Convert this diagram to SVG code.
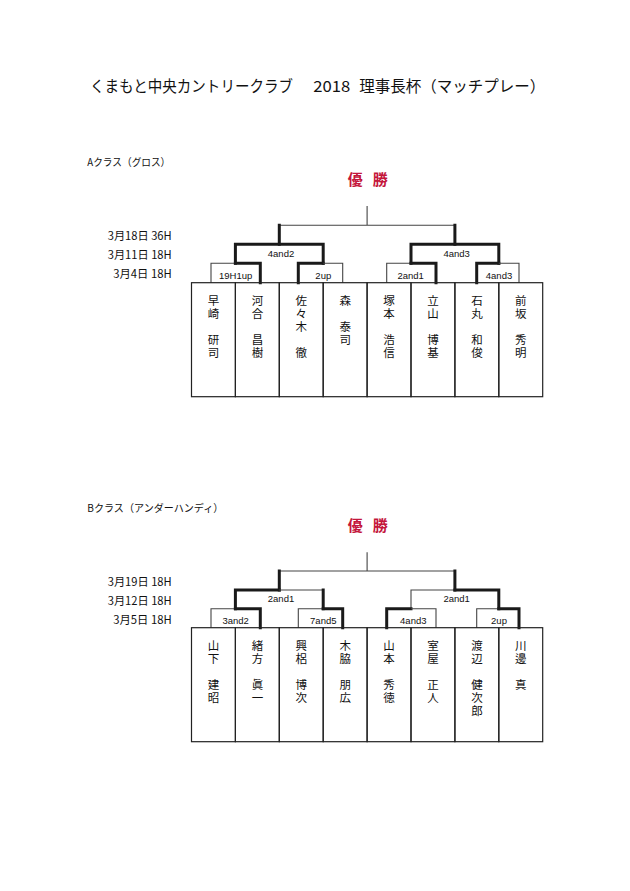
<svg xmlns="http://www.w3.org/2000/svg" width="630" height="891" viewBox="0 0 630 891">
<style>
.bg{fill:#ffffff}
.ttl{font-family:"Noto Sans CJK JP","Liberation Sans",sans-serif;font-size:15.5px;fill:#111}
.cls{font-family:"Noto Sans CJK JP","Liberation Sans",sans-serif;font-size:10.5px;fill:#111}
.dt{font-family:"Noto Sans CJK JP","Liberation Sans",sans-serif;font-size:11.5px;fill:#111;text-anchor:end}
.win{font-family:"Noto Sans CJK JP",sans-serif;font-size:15px;font-weight:bold;fill:#c4163c;text-anchor:middle}
.res{font-family:"Liberation Sans","Noto Sans",sans-serif;font-size:9.5px;fill:#111;text-anchor:middle}
.nm{font-family:"Noto Sans CJK JP",sans-serif;font-size:11.5px;fill:#111;text-anchor:middle}
.box{fill:none;stroke:#222;stroke-width:1.2}
.tn{fill:none;stroke:#444;stroke-width:1.1}
.tk{fill:none;stroke:#1a1a1a;stroke-width:3;stroke-linecap:square}
</style>
<rect class="bg" x="0" y="0" width="630" height="891"/>

<g id="title">
<text class="ttl" x="90" y="91.5" textLength="203" lengthAdjust="spacingAndGlyphs">くまもと中央カントリークラブ</text>
<text class="ttl" x="313.3" y="91.5" textLength="37" lengthAdjust="spacingAndGlyphs">2018</text>
<text class="ttl" x="359.3" y="91.5" textLength="186" lengthAdjust="spacingAndGlyphs">理事長杯（マッチプレー）</text>
</g>

<!-- ===== A class ===== -->
<g id="classA-labels">
<text class="cls" x="87.3" y="165.5" textLength="83" lengthAdjust="spacingAndGlyphs">Aクラス（グロス）</text>
<text class="win" x="355.3 380.3" y="184.5">優勝</text>
<text class="dt" x="171.7" y="239.8" textLength="64" lengthAdjust="spacingAndGlyphs">3月18日 36H</text>
<text class="dt" x="171.7" y="258.8" textLength="64" lengthAdjust="spacingAndGlyphs">3月11日 18H</text>
<text class="dt" x="171.7" y="278.1" textLength="58.4" lengthAdjust="spacingAndGlyphs">3月4日 18H</text>
</g>

<g id="classA-connectors">
<path class="tn" d="M367.1,206 V225.3 M279.3,225.3 H454.9"/>
<path class="tk" d="M279.3,225.3 V244.3 M454.9,225.3 V244.3"/>
<path class="tk" d="M235.4,244.3 H323.2 M235.4,244.3 V263.3 M323.2,244.3 V263.3"/>
<path class="tk" d="M411,244.3 H498.8 M411,244.3 V263.3 M498.8,244.3 V263.3"/>
<path class="tn" d="M211,282.7 V263.3 H235.4"/>
<path class="tk" d="M235.4,263.3 H260.3 V282.7"/>
<path class="tk" d="M298.3,282.7 V263.3 H323.2"/>
<path class="tn" d="M323.2,263.3 H342.7 V282.7"/>
<path class="tn" d="M386.7,282.7 V263.3 H411"/>
<path class="tk" d="M411,263.3 H436 V282.7"/>
<path class="tk" d="M476.7,282.7 V263.3 H498.8"/>
<path class="tn" d="M498.8,263.3 H519 V282.7"/>
<text class="res" x="281" y="257.3">4and2</text>
<text class="res" x="456.7" y="257.3">4and3</text>
<text class="res" x="235.7" y="279.3">19H1up</text>
<text class="res" x="323.3" y="279.3">2up</text>
<text class="res" x="410.7" y="279.3">2and1</text>
<text class="res" x="499" y="279.3">4and3</text>
</g>

<g id="A1"><rect class="box" x="191.5" y="282.7" width="43.9" height="114"/><text class="nm" x="213.5 213.5 213.5 213.5" y="304.9 318 344.2 357.3">早崎研司</text></g>
<g id="A2"><rect class="box" x="235.4" y="282.7" width="43.9" height="114"/><text class="nm" x="257.4 257.4 257.4 257.4" y="304.9 318 344.2 357.3">河合昌樹</text></g>
<g id="A3"><rect class="box" x="279.3" y="282.7" width="43.9" height="114"/><text class="nm" x="301.3 301.3 301.3 301.3" y="304.9 318 331.1 357.3">佐々木徹</text></g>
<g id="A4"><rect class="box" x="323.2" y="282.7" width="43.9" height="114"/><text class="nm" x="345.2 345.2 345.2" y="304.9 331.1 344.2">森泰司</text></g>
<g id="A5"><rect class="box" x="367.1" y="282.7" width="43.9" height="114"/><text class="nm" x="389.1 389.1 389.1 389.1" y="304.9 318 344.2 357.3">塚本浩信</text></g>
<g id="A6"><rect class="box" x="411" y="282.7" width="43.9" height="114"/><text class="nm" x="433 433 433 433" y="304.9 318 344.2 357.3">立山博基</text></g>
<g id="A7"><rect class="box" x="454.9" y="282.7" width="43.9" height="114"/><text class="nm" x="476.9 476.9 476.9 476.9" y="304.9 318 344.2 357.3">石丸和俊</text></g>
<g id="A8"><rect class="box" x="498.8" y="282.7" width="43.9" height="114"/><text class="nm" x="520.8 520.8 520.8 520.8" y="304.9 318 344.2 357.3">前坂秀明</text></g>

<!-- ===== B class ===== -->
<g id="classB-labels">
<text class="cls" x="87.3" y="512" textLength="136" lengthAdjust="spacingAndGlyphs">Bクラス（アンダーハンディ）</text>
<text class="win" x="355.3 380.3" y="530.5">優勝</text>
<text class="dt" x="171.7" y="586.4" textLength="64" lengthAdjust="spacingAndGlyphs">3月19日 18H</text>
<text class="dt" x="171.7" y="605.1" textLength="64" lengthAdjust="spacingAndGlyphs">3月12日 18H</text>
<text class="dt" x="171.7" y="624.1" textLength="58.4" lengthAdjust="spacingAndGlyphs">3月5日 18H</text>
</g>

<g id="classB-connectors">
<path class="tn" d="M367.1,552.3 V571 M279.3,571 H454.9"/>
<path class="tk" d="M279.3,571 V590 M454.9,571 V590"/>
<path class="tk" d="M235.4,608.7 V590 H279.3"/>
<path class="tn" d="M279.3,590 H323.2"/>
<path class="tk" d="M323.2,590 V608.7"/>
<path class="tn" d="M411,608.7 V590 H454.9"/>
<path class="tk" d="M454.9,590 H498.8 V608.7"/>
<path class="tn" d="M211,627.7 V608.7 H235.4"/>
<path class="tk" d="M235.4,608.7 H260.3 V627.7"/>
<path class="tn" d="M298.3,627.7 V608.7 H323.2"/>
<path class="tk" d="M323.2,608.7 H342.7 V627.7"/>
<path class="tk" d="M386.7,627.7 V608.7 H411"/>
<path class="tn" d="M411,608.7 H436 V627.7"/>
<path class="tn" d="M476.7,627.7 V608.7 H498.8"/>
<path class="tk" d="M498.8,608.7 H519 V627.7"/>
<text class="res" x="281" y="601.7">2and1</text>
<text class="res" x="456.7" y="601.7">2and1</text>
<text class="res" x="235.7" y="623.5">3and2</text>
<text class="res" x="323.3" y="623.5">7and5</text>
<text class="res" x="413.3" y="623.5">4and3</text>
<text class="res" x="499" y="623.5">2up</text>
</g>

<g id="B1"><rect class="box" x="191.5" y="627.7" width="43.9" height="114"/><text class="nm" x="213.5 213.5 213.5 213.5" y="649.9 663 689.2 702.3">山下建昭</text></g>
<g id="B2"><rect class="box" x="235.4" y="627.7" width="43.9" height="114"/><text class="nm" x="257.4 257.4 257.4 257.4" y="649.9 663 689.2 702.3">緒方眞一</text></g>
<g id="B3"><rect class="box" x="279.3" y="627.7" width="43.9" height="114"/><text class="nm" x="301.3 301.3 301.3 301.3" y="649.9 663 689.2 702.3">興梠博次</text></g>
<g id="B4"><rect class="box" x="323.2" y="627.7" width="43.9" height="114"/><text class="nm" x="345.2 345.2 345.2 345.2" y="649.9 663 689.2 702.3">木脇朋広</text></g>
<g id="B5"><rect class="box" x="367.1" y="627.7" width="43.9" height="114"/><text class="nm" x="389.1 389.1 389.1 389.1" y="649.9 663 689.2 702.3">山本秀徳</text></g>
<g id="B6"><rect class="box" x="411" y="627.7" width="43.9" height="114"/><text class="nm" x="433 433 433 433" y="649.9 663 689.2 702.3">室屋正人</text></g>
<g id="B7"><rect class="box" x="454.9" y="627.7" width="43.9" height="114"/><text class="nm" x="476.9 476.9 476.9 476.9 476.9" y="649.9 663 689.2 702.3 715.4">渡辺健次郎</text></g>
<g id="B8"><rect class="box" x="498.8" y="627.7" width="43.9" height="114"/><text class="nm" x="520.8 520.8 520.8" y="649.9 663 689.2">川邊真</text></g>
</svg>
